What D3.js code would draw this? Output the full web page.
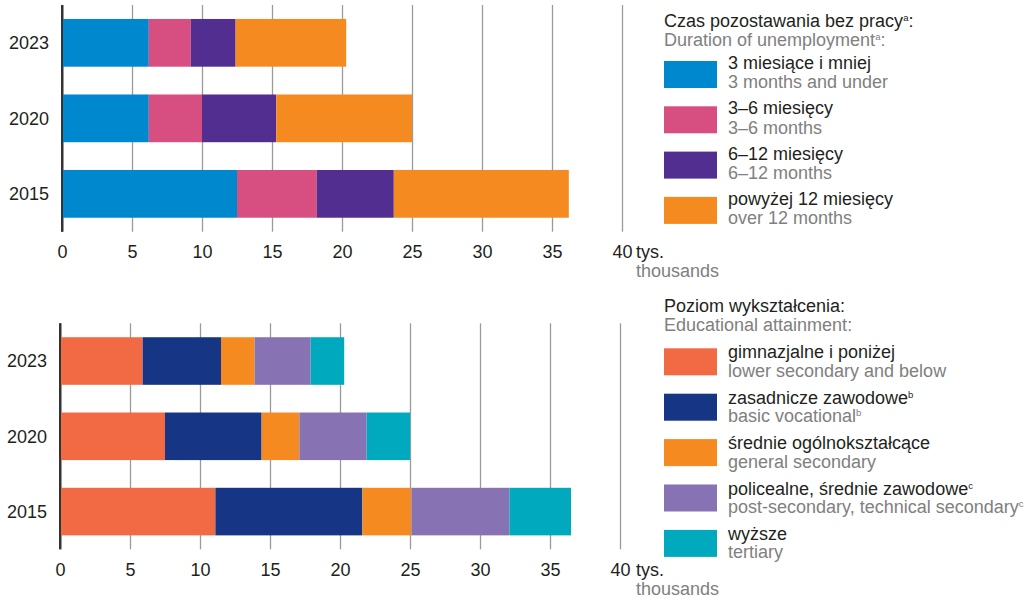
<!DOCTYPE html>
<html>
<head>
<meta charset="utf-8">
<script src="https://cdn.jsdelivr.net/npm/d3@7"></script>
<style>
  body { margin: 0; background: #fff; }
  svg { display: block; font-family: "Liberation Sans", Arial, sans-serif; }
</style>
</head>
<body>
<div id="chart"></div>
<script>
// categories (top to bottom)
const years = ["2023", "2020", "2015"];
const xTicks = [0, 5, 10, 15, 20, 25, 30, 35, 40];

// duration of unemployment, thousands
const durationKeys = ["upTo3", "m3to6", "m6to12", "over12"];
const upTo3 = [6.2, 6.2, 12.5];
const m3to6 = [3.0, 3.8, 5.7];
const m6to12 = [3.2, 5.3, 5.5];
const over12 = [7.9, 9.7, 12.5];
const durationPl = ["3 miesiące i mniej", "3–6 miesięcy", "6–12 miesięcy", "powyżej 12 miesięcy"];
const durationEn = ["3 months and under", "3–6 months", "6–12 months", "over 12 months"];
const durationColors = ["#0088cf", "#d64f80", "#522e91", "#f58b20"];

// educational attainment, thousands
const eduKeys = ["lower", "vocational", "general", "postsec", "tertiary"];
const lower = [5.9, 7.5, 11.1];
const vocational = [5.6, 6.9, 10.5];
const general = [2.4, 2.7, 3.5];
const postsec = [4.0, 4.8, 7.0];
const tertiary = [2.4, 3.1, 4.4];
const eduPl = ["gimnazjalne i poniżej", "zasadnicze zawodowe", "średnie ogólnokształcące", "policealne, średnie zawodowe", "wyższe"];
const eduEn = ["lower secondary and below", "basic vocational", "general secondary", "post-secondary, technical secondary", "tertiary"];
const eduPlSup = ["", "b", "", "c", ""];
const eduEnSup = ["", "b", "", "c", ""];
const eduColors = ["#f26a44", "#163584", "#f58b20", "#8773b4", "#00a9be"];

const W = 1025, H = 598;
const dark = "#231f20", grey = "#808080";

const svg = d3.select("#chart").append("svg")
    .attr("width", W)
    .attr("height", H);

function buildRows(keys, series) {
    return years.map((y, i) => {
        const row = { year: y };
        keys.forEach((k, j) => row[k] = series[j][i]);
        return row;
    });
}

function drawPanel(opt) {
    const g = svg.append("g");
    const x = d3.scaleLinear().domain([0, 40]).range([opt.x0, opt.x0 + 560]);
    const y = d3.scaleBand().domain(years)
        .range([opt.top, opt.bottom])
        .paddingInner(0.368)
        .paddingOuter(0.185);

    // grid + ticks
    const axis = g.append("g")
        .attr("transform", `translate(0,${opt.bottom})`)
        .call(d3.axisBottom(x)
            .tickValues(xTicks)
            .tickSizeInner(-(opt.bottom - opt.top))
            .tickSizeOuter(0)
            .tickPadding(opt.tickPad));
    axis.select(".domain").remove();
    axis.selectAll(".tick line")
        .attr("stroke", d => d === 0 ? "#333" : "#9a9a9a")
        .attr("stroke-width", d => d === 0 ? 2 : 1.3);
    axis.selectAll(".tick text")
        .attr("fill", dark)
        .attr("font-size", 18)
        .style("font-family", "inherit");

    // stacked bars
    const stacked = d3.stack().keys(opt.keys)(buildRows(opt.keys, opt.series));
    g.selectAll("g.layer")
        .data(stacked)
        .join("g")
        .attr("class", "layer")
        .attr("fill", (d, i) => opt.colors[i])
        .selectAll("rect")
        .data(d => d)
        .join("rect")
        .attr("x", d => x(d[0]))
        .attr("y", d => y(d.data.year))
        .attr("width", d => x(d[1]) - x(d[0]))
        .attr("height", y.bandwidth());

    // redraw zero line over bars
    g.append("line")
        .attr("x1", x(0)).attr("x2", x(0))
        .attr("y1", opt.top).attr("y2", opt.bottom)
        .attr("stroke", "#333").attr("stroke-width", 2);

    // year labels
    g.selectAll("text.year")
        .data(years)
        .join("text")
        .attr("class", "year")
        .attr("x", opt.x0 - 13)
        .attr("y", d => y(d) + y.bandwidth() / 2)
        .attr("dy", "0.35em")
        .attr("text-anchor", "end")
        .attr("font-size", 18)
        .attr("fill", dark)
        .text(d => d);

    // unit
    g.append("text")
        .attr("x", 636).attr("y", opt.unitY)
        .attr("font-size", 18).attr("fill", dark)
        .text("tys.");
    g.append("text")
        .attr("x", 636).attr("y", opt.unitY + 18.5)
        .attr("font-size", 18).attr("fill", grey)
        .text("thousands");
}

// text with an optional small raised letter, and an optional tail after it
function supText(sel, main, sup, tail, color) {
    sel.attr("fill", color).text(main);
    if (sup) {
        sel.append("tspan")
            .attr("font-size", 9.5)
            .attr("dy", -6)
            .text(sup);
        if (tail) sel.append("tspan").attr("dy", 6).text(tail);
    } else if (tail) {
        sel.append("tspan").text(tail);
    }
}

function drawLegend(opt) {
    const g = svg.append("g").attr("font-size", 18);
    supText(g.append("text").attr("x", 664).attr("y", opt.titleY),
        opt.titlePl, opt.titleSup, ":", dark);
    supText(g.append("text").attr("x", 664).attr("y", opt.titleY + 19),
        opt.titleEn, opt.titleSup, ":", grey);

    opt.pl.forEach((label, i) => {
        const top = opt.swTop + i * opt.step;
        g.append("rect")
            .attr("x", 664).attr("y", top)
            .attr("width", 53).attr("height", 27)
            .attr("fill", opt.colors[i]);
        supText(g.append("text").attr("x", 728).attr("y", top + opt.plOff),
            label, opt.plSup ? opt.plSup[i] : "", "", dark);
        supText(g.append("text").attr("x", 728).attr("y", top + opt.enOff),
            opt.en[i], opt.enSup ? opt.enSup[i] : "", "", grey);
    });
}

drawPanel({
    x0: 62, top: 5, bottom: 231.7, tickPad: 13.5, unitY: 258,
    keys: durationKeys, series: [upTo3, m3to6, m6to12, over12], colors: durationColors
});
drawPanel({
    x0: 60, top: 323.3, bottom: 549.3, tickPad: 14, unitY: 576,
    keys: eduKeys, series: [lower, vocational, general, postsec, tertiary], colors: eduColors
});

drawLegend({
    titlePl: "Czas pozostawania bez pracy", titleEn: "Duration of unemployment", titleSup: "a",
    titleY: 26.5, swTop: 61, step: 45.3, plOff: 8, enOff: 27.3,
    pl: durationPl, en: durationEn, colors: durationColors
});
drawLegend({
    titlePl: "Poziom wykształcenia", titleEn: "Educational attainment", titleSup: "",
    titleY: 311.7, swTop: 348.3, step: 45.4, plOff: 10, enOff: 28.5,
    pl: eduPl, en: eduEn, colors: eduColors,
    plSup: eduPlSup, enSup: eduEnSup
});
</script>
</body>
</html>
